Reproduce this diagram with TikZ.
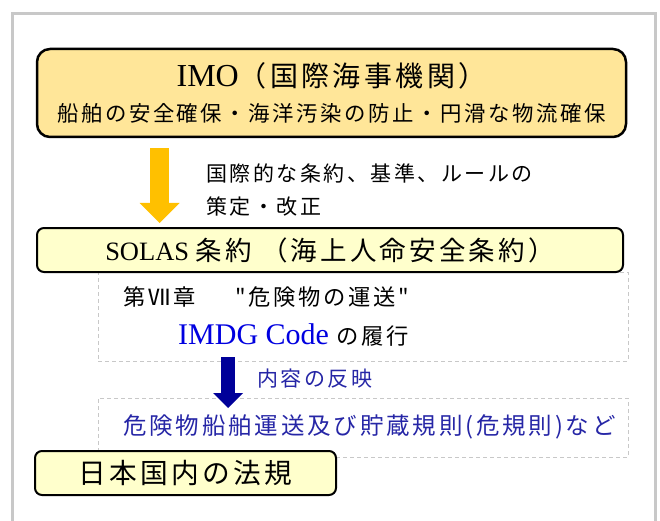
\documentclass[tikz,border=0pt]{standalone}
\usepackage{fontspec}
\setmainfont{Liberation Serif}
\newfontfamily\jp[LetterSpace=12]{Noto Sans CJK JP}
\usetikzlibrary{arrows.meta}
\definecolor{imofill}{HTML}{FFE699}
\definecolor{lawfill}{HTML}{FFFFCC}
\definecolor{framegray}{HTML}{C8C8C8}
\definecolor{dashgray}{HTML}{C8C8C8}
\definecolor{arrowgold}{HTML}{FFC000}
\definecolor{arrownavy}{HTML}{000099}
\definecolor{textnavy}{HTML}{2626A6}
\definecolor{codeblue}{HTML}{0000E0}

\begin{document}
\begin{tikzpicture}[x=1pt, y=-1pt, inner sep=0pt,
  lawbox/.style={draw, line width=2pt, rounded corners=7pt, fill=lawfill},
  imobox/.style={lawbox, fill=imofill, line width=2.5pt, rounded corners=13pt},
  scopebox/.style={draw=dashgray, line width=0.8pt, dash pattern=on 4pt off 3pt},
  label/.style={anchor=west, align=left},
  goldarrow/.style={arrowgold, line width=19pt, -{Triangle[width=40pt,length=20pt,line width=0pt]}},
  navyarrow/.style={arrownavy, line width=14pt, -{Triangle[width=30pt,length=15pt,line width=0pt]}}]
  \useasboundingbox (0,0) rectangle (660,521);
  \draw[framegray, line width=3pt] (12.5,530) -- (12.5,13.5) -- (655,13.5) -- (655,530);

  \node[scopebox, minimum width=530pt, minimum height=89pt] (chapter) at (363,316.5) {};
  \node[scopebox, minimum width=530pt, minimum height=59pt] (rules) at (363,427.5) {};

  \node[imobox, minimum width=589pt, minimum height=88pt, align=center,
        font=\jp\fontsize{21.4}{26}\selectfont] (imo) at (331.5,93) {%
    {\rmfamily\fontsize{32}{32}\selectfont IMO}{\fontsize{28}{32}\selectfont （国際海事機関）}\\[9.5pt]
    船舶の安全確保・海洋汚染の防止・円滑な物流確保};
  \node[lawbox, minimum width=586pt, minimum height=44pt,
        font=\jp\fontsize{26.5}{28}\selectfont] (solas) at (330,250) {%
    {\rmfamily\fontsize{26.5}{28}\selectfont SOLAS }条約 （海上人命安全条約）};
  \node[lawbox, minimum width=301pt, minimum height=44pt,
        font=\jp\fontsize{27.7}{30}\selectfont] (domestic) at (185.5,473) {日本国内の法規};

  \node[label, font=\jp\fontsize{21}{33}\selectfont] (revise) at (206,190.5) {%
    国際的な条約、基準、ルールの\\策定・改正};
  \node[label, font=\jp\fontsize{22.3}{26}\selectfont] (chap7) at (123,297) {%
    第Ⅶ章\hspace{40pt}"危険物の運送"};
  \node[label, font=\jp\fontsize{22.3}{26}\selectfont] (imdg) at (178,335) {%
    {\color{codeblue}\rmfamily\fontsize{30}{30}\selectfont IMDG Code} の履行};
  \node[label, text=textnavy, font=\jp\fontsize{21}{24}\selectfont] (reflect) at (257,379) {内容の反映};
  \node[label, text=textnavy, font=\jp\fontsize{23.5}{26}\selectfont] (kikisoku) at (123,427) {%
    危険物船舶運送及び貯蔵規則(危規則)など};

  \coordinate (goldx) at (159.5,0);
  \coordinate (navyx) at (228,0);
  \draw[goldarrow, shorten <=10pt, shorten >=4pt] (imo.south -| goldx) -- (solas.north -| goldx);
  \draw[navyarrow, shorten <=-4.4pt, shorten >=-10.4pt] (chapter.south -| navyx) -- (rules.north -| navyx);
\end{tikzpicture}
\end{document}
